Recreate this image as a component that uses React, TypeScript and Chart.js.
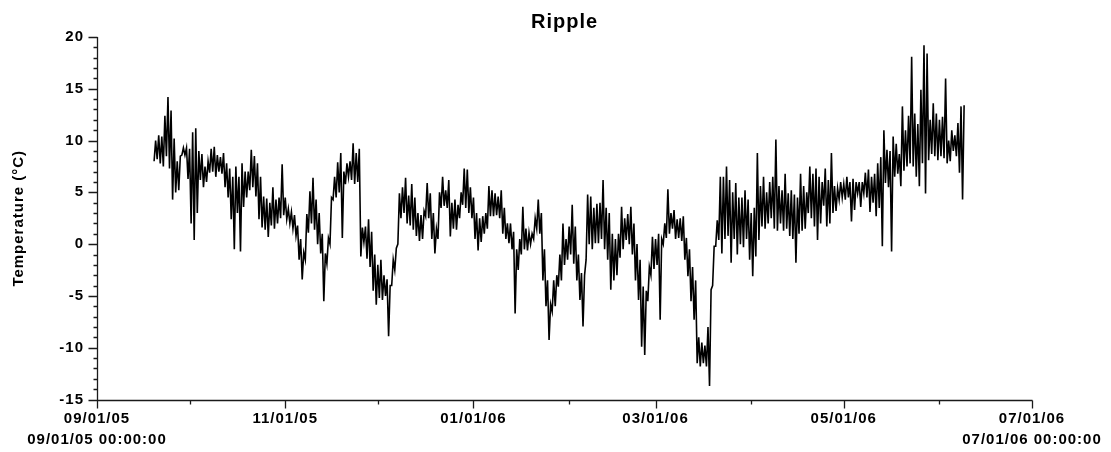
import React, { useEffect, useRef } from 'react';
import { Chart, registerables } from 'chart.js';

Chart.register(...registerables);

const chartTitle = 'Ripple';
const yAxisTitle = 'Temperature (°C)';

// first sample: days after 09/01/05 00:00:00 (one low and one high reading per day)
const firstDay = 18.5;

const dailyLow = [
  8.0, 8.2, 7.8, 7.5, 8.5, 7.3, 4.3, 5.0, 5.2, 8.6,
  8.6, 6.3, 2.0, 0.4, 3.0, 6.2, 5.5, 6.0, 6.9, 7.0,
  6.5, 7.0, 6.8, 5.5, 4.5, 2.4, -0.5, 3.0, -0.7, 3.6,
  4.5, 5.2, 5.5, 4.6, 2.4, 1.6, 1.4, 0.7, 1.8, 1.5,
  2.0, 2.5, 2.8, 2.4, 2.0, 1.5, 0.8, -1.5, -3.4, -1.5,
  1.1, 2.0, 1.4, 0.0, -0.9, -5.5, -1.9, 0.0, 4.3, 4.5,
  5.0, 0.6, 5.8, 6.5, 6.2, 5.8, 6.0, -1.2, 0.2, -1.4,
  -2.2, -4.5, -5.85, -5.2, -5.4, -5.0, -8.9, -4.0, -2.5, 0.0,
  2.5, 3.0, 2.0, 1.8, 1.4, 0.8, 0.3, 0.5, 2.7, 2.5,
  0.5, -0.9, 0.5, 3.5, 3.7, 3.5, 0.75, 1.5, 1.4, 2.5,
  3.8, 3.5, 3.0, 2.5, 0.5, -0.6, 0.2, 1.0, 1.5, 2.7,
  2.7, 2.8, 2.5, 1.0, 0.5, 0.1, -0.5, -6.7, -2.5, -1.0,
  -0.5, -0.6, 0.0, 0.5, 1.5, 1.0, -3.5, -6.0, -9.25, -6.5,
  -6.0, -4.1, -3.5, -2.0, -1.5, -1.0, -1.9, -3.5, -5.4, -7.95,
  -1.5, 0.0, -0.5, 0.1, 0.1, 0.5, -0.5, -1.5, -4.4, -3.5,
  -3.0, -1.3, -0.5, 0.4, 0.0, -1.0, -3.5, -5.4, -9.9, -10.7,
  -5.5, -3.0, -2.4, -2.0, -7.3, 0.0, 0.6, 1.0, 1.5, 0.5,
  0.6, 0.3, -1.5, -3.1, -5.5, -7.3, -11.5, -11.8, -11.5, -11.8,
  -13.7, -4.0, -0.2, 0.4, -0.9, 0.5, 0.8, -1.8, 0.5, -1.0,
  0.0, -0.3, 0.5, -1.5, -3.1, -1.2, 0.4, 1.7, 1.5, 2.0,
  2.5, 1.5, 1.3, 2.0, 1.3, 1.5, 0.8, 0.5, -1.8, 1.0,
  1.3, 1.5, 3.0, 2.5, 1.7, 0.4, 2.0, 3.7, 1.7, 2.0,
  3.0, 3.2, 4.3, 4.5, 4.3, 4.5, 2.2, 3.3, 4.9, 3.6,
  4.9, 4.5, 3.1, 4.0, 2.7, 3.5, -0.2, 5.9, 5.5, -0.7,
  6.5, 6.8, 5.6, 7.1, 7.5, 7.8, 7.5, 6.5, 5.6, 7.8,
  4.9, 8.1, 8.7, 8.5, 8.1, 8.5, 8.3, 7.8, 8.0, 9.0,
  8.5, 6.9, 4.3,
];

const dailyHigh = [
  10.0, 10.5, 10.4, 12.4, 14.2, 12.9, 10.2, 8.0, 8.5, 9.3,
  9.3, 9.2, 10.8, 11.2, 9.0, 8.7, 7.5, 8.0, 9.2, 9.4,
  8.6, 8.4, 8.8, 7.8, 7.3, 6.5, 7.5, 6.5, 7.8, 7.0,
  7.0, 9.1, 8.5, 7.8, 6.5, 4.6, 4.4, 4.0, 5.5, 4.3,
  4.5, 7.7, 4.5, 3.4, 3.1, 2.8, 1.8, 0.5, -0.8, 2.9,
  5.1, 6.4, 4.3, 3.0, 1.0, -0.9, 0.6, 4.5, 6.5, 7.9,
  8.8, 7.0, 7.8, 8.0, 9.75, 8.8, 9.2, 1.6, 1.7, 2.4,
  1.2, -1.0, -2.0, -1.5, -3.0, -3.4, -4.0, -1.5, -0.4, 4.9,
  5.5, 6.4, 4.7, 5.8, 4.5, 3.0, 2.8, 3.2, 5.9, 4.9,
  3.0, 1.5, 5.0, 6.5, 5.2, 6.2, 4.0, 4.3, 3.8, 5.0,
  7.3, 7.2, 5.5, 4.5, 3.0, 2.5, 2.7, 3.0, 5.6, 5.2,
  4.9, 4.6, 5.2, 3.5, 2.0, 2.0, 1.2, -0.5, 0.5, 3.6,
  1.5, 1.1, 1.0, 2.5, 4.3, 3.0, -0.5, -3.5, -5.8, -3.5,
  -3.0, -1.0, 2.0, 0.5, 1.7, 3.8, 1.7, -1.0, -2.8, -3.0,
  4.8, 4.6, 3.5, 3.9, 4.0, 6.2, 3.5, 3.0, 1.0, 0.5,
  1.0, 3.6, 2.5, 2.9, 3.6, 2.0, 0.0, -1.5, -4.1, -4.5,
  -2.2, 0.7, 0.5, 1.0, 0.5, 2.0, 5.3, 3.0, 3.3, 2.4,
  2.5, 2.7, 0.6, -0.5, -2.2, -3.5, -9.0, -9.5, -9.8, -8.0,
  -4.4, -0.2, 2.3, 6.5, 6.5, 7.5, 6.2, 5.0, 5.9, 4.5,
  4.5, 5.2, 4.3, 3.0, 3.5, 8.8, 5.6, 6.5, 5.0, 6.0,
  6.5, 10.1, 5.6, 5.2, 6.8, 4.9, 5.2, 4.8, 4.5, 6.8,
  5.6, 5.0, 7.5, 6.8, 7.3, 6.5, 6.0, 7.3, 6.2, 8.8,
  5.6, 5.4, 6.0, 5.8, 6.5, 6.0, 6.3, 6.0, 6.0, 6.0,
  6.9, 7.2, 6.5, 6.8, 7.8, 8.4, 11.0, 9.1, 9.0, 10.4,
  9.7, 8.7, 13.3, 11.0, 12.4, 18.1, 12.6, 11.6, 14.9, 19.2,
  18.4, 12.0, 13.6, 12.6, 12.0, 12.3, 16.0, 10.0, 11.0, 10.5,
  11.7, 13.3, 13.4,
];

// x axis: days after 09/01/05
const xMajorTicks = [0, 61, 122, 181, 242, 303];
const xMajorLabels: (string | string[])[] = [
  ['09/01/05', '09/01/05 00:00:00'],
  '11/01/05',
  '01/01/06',
  '03/01/06',
  '05/01/06',
  ['07/01/06', '07/01/06 00:00:00'],
];
const xMinorTicks = [30, 91, 153, 212, 273];

const yMin = -15;
const yMax = 20;
const yMajorStep = 5;
const yMinorStep = 1;

const FONT = "'Liberation Sans', Arial, sans-serif";

const letterSpacingPlugin = {
  id: 'letterSpacing',
  beforeLayout(chart: any) {
    chart.ctx.letterSpacing = '1px';
  },
  beforeDraw(chart: any) {
    chart.ctx.letterSpacing = '1px';
  },
};

const axesPlugin = {
  id: 'axesTicks',
  afterDraw(chart: any) {
    const { ctx, chartArea, scales } = chart;
    const { left, right, top, bottom } = chartArea;
    const xs = scales.x;
    const ys = scales.y;
    ctx.save();
    ctx.strokeStyle = '#1a1a1a';
    ctx.lineWidth = 1.3;
    ctx.beginPath();
    const ax = Math.round(left) + 0.5;
    const ay = Math.round(bottom) + 0.5;
    ctx.moveTo(ax, Math.round(top));
    ctx.lineTo(ax, ay);
    ctx.lineTo(Math.round(right) + 0.5, ay);
    ys.ticks.forEach((t: any) => {
      const py = Math.round(ys.getPixelForValue(t.value)) + 0.5;
      const len = t.value % yMajorStep === 0 ? 9 : 4;
      ctx.moveTo(ax - len, py);
      ctx.lineTo(ax, py);
    });
    xs.ticks.forEach((t: any) => {
      const px = Math.round(xs.getPixelForValue(t.value)) + 0.5;
      const len = xMajorTicks.includes(t.value) ? 8 : 4;
      ctx.moveTo(px, ay);
      ctx.lineTo(px, ay + len);
    });
    ctx.stroke();
    ctx.restore();
  },
};

export default function App() {
  const canvasRef = useRef<HTMLCanvasElement | null>(null);

  useEffect(() => {
    const canvas = canvasRef.current;
    if (!canvas) return;

    const points: { x: number; y: number }[] = [];
    dailyLow.forEach((lo, i) => {
      points.push({ x: firstDay + i, y: lo });
      points.push({ x: firstDay + i + 0.5, y: dailyHigh[i] });
    });

    const chart = new Chart(canvas, {
      type: 'line',
      data: {
        datasets: [
          {
            data: points,
            borderColor: '#000',
            borderWidth: 1.6,
            pointRadius: 0,
            tension: 0,
            fill: false,
          },
        ],
      },
      plugins: [letterSpacingPlugin, axesPlugin],
      options: {
        animation: false,
        responsive: false,
        parsing: false,
        layout: { padding: { left: 0, right: 79, top: 0, bottom: 0 } },
        plugins: {
          legend: { display: false },
          tooltip: { enabled: false },
          title: {
            display: true,
            fullSize: false,
            text: chartTitle,
            color: '#000',
            font: { family: FONT, size: 20, weight: 'bold' },
            padding: { top: 10, bottom: 3 },
          },
        },
        scales: {
          x: {
            type: 'linear',
            min: xMajorTicks[0],
            max: xMajorTicks[xMajorTicks.length - 1],
            grid: { display: false, drawTicks: false },
            border: { display: false },
            afterBuildTicks: (scale: any) => {
              scale.ticks = [...xMajorTicks, ...xMinorTicks]
                .sort((a, b) => a - b)
                .map((v) => ({ value: v }));
            },
            afterFit: (scale: any) => {
              scale.height = 52.5;
            },
            ticks: {
              autoSkip: false,
              maxRotation: 0,
              minRotation: 0,
              padding: 8.5,
              color: '#000',
              font: { family: FONT, size: 15, weight: 'bold', lineHeight: 1.4 },
              callback: (value: any) => {
                const idx = xMajorTicks.indexOf(Number(value));
                return idx >= 0 ? xMajorLabels[idx] : '';
              },
            },
          },
          y: {
            type: 'linear',
            min: yMin,
            max: yMax,
            grid: { display: false, drawTicks: false },
            border: { display: false },
            afterBuildTicks: (scale: any) => {
              const t: { value: number }[] = [];
              for (let v = yMin; v <= yMax; v += yMinorStep) t.push({ value: v });
              scale.ticks = t;
            },
            afterFit: (scale: any) => {
              scale.width = 97;
            },
            title: {
              display: true,
              text: yAxisTitle,
              color: '#000',
              font: { family: FONT, size: 15, weight: 'bold' },
              padding: { top: 10, bottom: 0 },
            },
            ticks: {
              autoSkip: false,
              padding: 13,
              color: '#000',
              font: { family: FONT, size: 15, weight: 'bold' },
              callback: (value: any) =>
                Number(value) % yMajorStep === 0 ? String(value) : '',
            },
          },
        },
      } as any,
    });

    return () => {
      chart.destroy();
    };
  }, []);

  return (
    <div style={{ position: 'absolute', left: 0, top: 0, width: 1111, height: 452, background: '#fff' }}>
      <canvas ref={canvasRef} width={1111} height={452} style={{ display: 'block' }} />
    </div>
  );
}
